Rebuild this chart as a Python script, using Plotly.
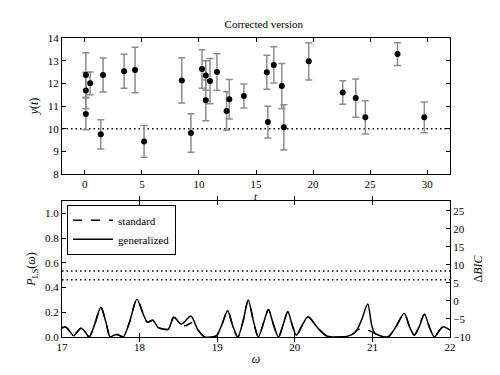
import plotly.graph_objects as go

# ---- top panel data ----
t_obs = [0.09, 0.09, 0.09, 0.47, 1.4, 1.6, 3.44, 4.4, 5.19, 8.5, 9.3, 10.27, 10.6, 10.6,
         10.97, 11.58, 12.42, 12.66, 13.94, 15.95, 16.04, 16.56, 17.26, 17.44, 19.62,
         22.6, 23.74, 24.58, 27.4, 29.75]
y_obs = [12.37, 11.69, 10.65, 12.0, 9.75, 12.37, 12.53, 12.59, 9.44, 12.13, 9.81, 12.63,
         12.35, 11.25, 12.1, 12.5, 10.78, 11.3, 11.44, 12.49, 10.29, 12.81, 11.88, 10.06,
         12.97, 11.6, 11.35, 10.5, 13.29, 10.5]
dy_obs = [0.98, 0.8, 0.7, 0.5, 0.65, 0.75, 0.75, 1.0, 0.7, 1.0, 0.85, 0.85, 0.65, 0.9,
          1.0, 0.8, 0.85, 0.87, 0.53, 0.75, 0.7, 0.8, 1.0, 1.0, 0.82, 0.52, 0.84, 0.73,
          0.5, 0.68]
y_mean = 10.0

# ---- bottom panel data ----
omega_gen = [17.00, 17.05, 17.10, 17.15, 17.20, 17.245, 17.30, 17.35, 17.42, 17.50, 17.57,
             17.62, 17.67, 17.71, 17.75, 17.79, 17.87, 17.965, 18.05, 18.10, 18.17, 18.24,
             18.30, 18.37, 18.44, 18.54, 18.66, 18.75, 18.84, 18.92, 18.99, 19.06, 19.135,
             19.20, 19.265, 19.33, 19.40, 19.47, 19.53, 19.60, 19.66, 19.72, 19.79, 19.85,
             19.91, 19.97, 20.02, 20.10, 20.17, 20.30, 20.41, 20.50, 20.60, 20.67, 20.76,
             20.80, 20.86, 20.94, 20.99, 21.03, 21.10, 21.20, 21.30, 21.41, 21.48, 21.54,
             21.60, 21.67, 21.74, 21.80, 21.86, 21.91, 22.00]
p_gen = [0.075, 0.08, 0.045, 0.01, 0.045, 0.07, 0.04, 0.0, 0.10, 0.24, 0.11,
         0.0, 0.015, 0.02, 0.01, 0.0, 0.12, 0.306, 0.18, 0.12, 0.135, 0.075,
         0.065, 0.062, 0.159, 0.105, 0.169, 0.06, 0.0, 0.0, 0.01, 0.10, 0.212,
         0.09, 0.0, 0.12, 0.298, 0.12, 0.0, 0.12, 0.223, 0.11, 0.0, 0.10,
         0.204, 0.09, 0.015, 0.10, 0.164, 0.07, 0.008, 0.0, 0.0, 0.005, 0.03,
         0.056, 0.137, 0.266, 0.097, 0.03, 0.01, 0.0, 0.08, 0.191, 0.08, 0.015,
         0.08, 0.183, 0.07, 0.0, 0.05, 0.083, 0.056]

omega_std = [17.00, 17.05, 17.10, 17.15, 17.20, 17.245, 17.30, 17.35, 17.42, 17.50, 17.57,
             17.62, 17.67, 17.71, 17.75, 17.79, 17.87, 17.965, 18.05, 18.10, 18.17, 18.24,
             18.30, 18.37, 18.44, 18.54, 18.59, 18.67, 18.72, 18.75, 18.84, 18.92, 18.99,
             19.06, 19.135, 19.20, 19.265, 19.33, 19.40, 19.47, 19.53, 19.60, 19.66, 19.72,
             19.79, 19.85, 19.91, 19.97, 20.02, 20.10, 20.17, 20.30, 20.41, 20.50, 20.60,
             20.67, 20.76, 20.80, 20.86, 20.92, 20.98, 21.03, 21.10, 21.20, 21.30, 21.41,
             21.48, 21.54, 21.60, 21.67, 21.74, 21.80, 21.86, 21.91, 22.00]
p_std = [0.075, 0.08, 0.045, 0.01, 0.045, 0.07, 0.04, 0.0, 0.10, 0.24, 0.11,
         0.0, 0.015, 0.02, 0.01, 0.0, 0.12, 0.306, 0.18, 0.12, 0.135, 0.075,
         0.065, 0.062, 0.159, 0.105, 0.091, 0.115, 0.10, 0.06, 0.0, 0.0, 0.01,
         0.10, 0.212, 0.09, 0.0, 0.12, 0.298, 0.12, 0.0, 0.12, 0.223, 0.11,
         0.0, 0.10, 0.204, 0.09, 0.015, 0.10, 0.164, 0.07, 0.008, 0.0, 0.0,
         0.005, 0.03, 0.056, 0.068, 0.062, 0.045, 0.03, 0.01, 0.0, 0.08, 0.191,
         0.08, 0.015, 0.08, 0.183, 0.07, 0.0, 0.05, 0.083, 0.056]

p_levels = [0.533, 0.463]
bic_ticks = [-10, -5, 0, 5, 10, 15, 20, 25]

FONT = "Liberation Serif"
DOT = "1.5px,3px"

fig = go.Figure()

fig.add_trace(go.Scatter(
    x=[-2, 32], y=[y_mean, y_mean], mode="lines",
    line=dict(color="black", width=1.5, dash=DOT),
    showlegend=False, hoverinfo="skip", xaxis="x", yaxis="y"))

fig.add_trace(go.Scatter(
    x=t_obs, y=y_obs, mode="markers",
    marker=dict(color="black", size=6),
    error_y=dict(type="data", array=dy_obs, visible=True, color="#8c8c8c",
                 thickness=1.5, width=3.5),
    showlegend=False, xaxis="x", yaxis="y"))

for lv in p_levels:
    fig.add_trace(go.Scatter(
        x=[17, 22], y=[lv, lv], mode="lines",
        line=dict(color="black", width=1.5, dash=DOT),
        showlegend=False, hoverinfo="skip", xaxis="x2", yaxis="y2"))

fig.add_trace(go.Scatter(
    x=omega_std, y=p_std, mode="lines", name="standard",
    line=dict(color="black", width=1.5, dash="dash", shape="spline", smoothing=0.8),
    xaxis="x2", yaxis="y2"))
fig.add_trace(go.Scatter(
    x=omega_gen, y=p_gen, mode="lines", name="generalized",
    line=dict(color="black", width=1.5, shape="spline", smoothing=0.8),
    xaxis="x2", yaxis="y2"))

# invisible trace to anchor right axis
fig.add_trace(go.Scatter(
    x=[17, 22], y=[-10, -10], mode="lines", line=dict(width=0), opacity=0,
    showlegend=False, hoverinfo="skip", xaxis="x2", yaxis="y3"))

axis_common = dict(showgrid=False, zeroline=False, showline=True, linecolor="black",
                   linewidth=1.3, ticks="inside", ticklen=4, tickcolor="black",
                   tickfont=dict(family=FONT, size=11, color="black"))

fig.update_layout(
    width=492, height=367, autosize=False,
    margin=dict(l=54, r=50, t=29.5, b=37.5),
    plot_bgcolor="white", paper_bgcolor="white",
    font=dict(family=FONT, size=11, color="black"),
    title=dict(text="Corrected version", x=0.52, xanchor="center", y=0.955,
               yanchor="middle", font=dict(family=FONT, size=11, color="black")),
    xaxis=dict(domain=[0, 1], range=[-2, 32], tickvals=[0, 5, 10, 15, 20, 25, 30],
               mirror="allticks", anchor="y", **axis_common),
    yaxis=dict(domain=[0.545, 1], range=[8, 14], tickvals=[8, 9, 10, 11, 12, 13, 14],
               mirror="allticks", anchor="x",
               title=dict(text="<i>y</i>(<i>t</i>)", standoff=6, font=dict(family=FONT, size=12)),
               **axis_common),
    xaxis2=dict(domain=[0, 1], range=[17, 22], tickvals=[17, 18, 19, 20, 21, 22],
                mirror="allticks", anchor="y2",
                title=dict(text="<i>ω</i>", standoff=2, font=dict(family=FONT, size=12)),
                **axis_common),
    yaxis2=dict(domain=[0, 0.455], range=[0, 1.1],
                tickvals=[0.0, 0.2, 0.4, 0.6, 0.8, 1.0], ticktext=["0.0", "0.2", "0.4", "0.6", "0.8", "1.0"],
                anchor="x2",
                title=dict(text="<i>P</i><sub>LS</sub>(<i>ω</i>)", standoff=6,
                           font=dict(family=FONT, size=12)),
                **axis_common),
    yaxis3=dict(range=[-10, 27.7], tickvals=bic_ticks, overlaying="y2", side="right",
                anchor="x2",
                title=dict(text="Δ<i>BIC</i>", standoff=3, font=dict(family=FONT, size=12)),
                **axis_common),
    legend=dict(x=0.013, y=0.442, xanchor="left", yanchor="top",
                bordercolor="black", borderwidth=1, bgcolor="white",
                font=dict(family=FONT, size=11, color="black"),
                tracegroupgap=0, itemwidth=40),
    annotations=[dict(text="<i>t</i>", xref="paper", yref="paper", x=0.5, y=0.473,
                      xanchor="center", yanchor="middle", showarrow=False,
                      font=dict(family=FONT, size=11, color="black"))],
)

fig.write_html("out.html")
